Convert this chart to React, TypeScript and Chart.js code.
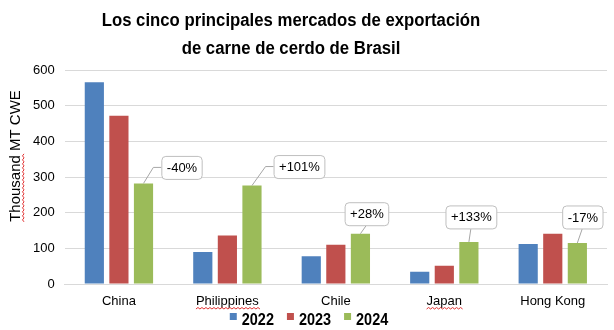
import React, { useEffect, useRef } from "react";
import { Chart, registerables } from "chart.js";

Chart.register(...registerables);

const categories = ["China", "Philippines", "Chile", "Japan", "Hong Kong"];
const years = ["2022", "2023", "2024"];
const values2022 = [566, 90, 78, 34, 112];
const values2023 = [472, 136, 110, 51, 141];
const values2024 = [282, 276, 141, 118, 115];
const changeLabels = ["-40%", "+101%", "+28%", "+133%", "-17%"];
const yTicks = [0, 100, 200, 300, 400, 500, 600];
const titleLines = ["Los cinco principales mercados de exportación", "de carne de cerdo de Brasil"];
const yTitle = "Thousand MT CWE";

const colors = ["#4f81bd", "#c0504d", "#9bbb59"];
// callout placement (style): offset of box center from bar top, and connector kind
const calloutStyle = [
  { dx: 38, dy: -16, side: true },
  { dx: 47, dy: -19, side: true },
  { dx: 6, dy: -20, side: false },
  { dx: 2, dy: -25, side: false },
  { dx: 5, dy: -26, side: false },
];
const misspelled = ["Philippines", "Japan"];

const FONT = "'Liberation Sans', Arial, sans-serif";

function wavy(ctx: CanvasRenderingContext2D, x0: number, x1: number, y: number) {
  ctx.save();
  ctx.strokeStyle = "#e03030";
  ctx.lineWidth = 1;
  ctx.beginPath();
  let up = true;
  ctx.moveTo(x0, y);
  for (let x = x0; x < x1; x += 2) {
    ctx.lineTo(x + 2, up ? y - 1.5 : y);
    up = !up;
  }
  ctx.stroke();
  ctx.restore();
}

const calloutPlugin = {
  id: "callouts",
  afterDatasetsDraw(chart: any) {
    const ctx: CanvasRenderingContext2D = chart.ctx;
    const meta = chart.getDatasetMeta(2);
    ctx.save();
    ctx.font = `13px ${FONT}`;
    meta.data.forEach((bar: any, i: number) => {
      const st = calloutStyle[i];
      const text = changeLabels[i];
      const tw = ctx.measureText(text).width;
      const w = tw + 10;
      const h = 23;
      const cx = bar.x + st.dx;
      const cy = bar.y + st.dy;
      const left = cx - w / 2;
      const top = cy - h / 2;
      ctx.strokeStyle = "#a6a6a6";
      ctx.lineWidth = 1;
      ctx.beginPath();
      if (st.side) {
        ctx.moveTo(bar.x, bar.y);
        ctx.lineTo(left - 8, cy);
        ctx.lineTo(left, cy);
      } else {
        ctx.moveTo(bar.x, bar.y);
        ctx.lineTo(cx, top + h);
      }
      ctx.stroke();
      ctx.beginPath();
      ctx.roundRect(left + 0.5, top + 0.5, w, h, 4);
      ctx.fillStyle = "#ffffff";
      ctx.fill();
      ctx.strokeStyle = "#bfbfbf";
      ctx.stroke();
      ctx.fillStyle = "#000000";
      ctx.textAlign = "center";
      ctx.textBaseline = "middle";
      ctx.fillText(text, cx + 0.5, cy + 1);
    });
    ctx.restore();
  },
  afterDraw(chart: any) {
    const ctx: CanvasRenderingContext2D = chart.ctx;
    const area = chart.chartArea;
    // title (narrow bold look)
    ctx.save();
    ctx.font = `bold 18px ${FONT}`;
    ctx.fillStyle = "#000000";
    ctx.textAlign = "center";
    ctx.textBaseline = "middle";
    titleLines.forEach((t, i) => {
      ctx.save();
      ctx.translate(291, 21 + i * 28);
      ctx.scale(0.93, 1);
      ctx.fillText(t, 0, 0);
      ctx.restore();
    });
    ctx.restore();
    // y axis title
    ctx.save();
    ctx.font = `15px ${FONT}`;
    ctx.fillStyle = "#000000";
    const cy = (area.top + area.bottom) / 2 - 21;
    ctx.translate(16, cy);
    ctx.rotate(-Math.PI / 2);
    ctx.textAlign = "center";
    ctx.textBaseline = "middle";
    ctx.fillText(yTitle, 0, 0);
    const full = ctx.measureText(yTitle).width;
    const first = ctx.measureText(yTitle.split(" ")[0]).width;
    ctx.restore();
    ctx.save();
    ctx.translate(16, cy);
    ctx.rotate(-Math.PI / 2);
    wavy(ctx, -full / 2, -full / 2 + first, 8);
    ctx.restore();
    // spell-check underlines under tick labels
    const xs = chart.scales.x;
    ctx.save();
    ctx.font = `13px ${FONT}`;
    categories.forEach((c, i) => {
      if (!misspelled.includes(c)) return;
      const x = xs.getPixelForTick(i);
      const w = ctx.measureText(c).width;
      wavy(ctx, x - w / 2, x + w / 2, area.bottom + 25);
    });
    ctx.restore();
    // legend (compact, bottom)
    ctx.save();
    ctx.font = `bold 17px ${FONT}`;
    const sx = 0.85;
    const ds = chart.data.datasets;
    const widths = ds.map((d: any) => ctx.measureText(d.label).width * sx);
    const box = 7, gap = 5, sep = 13;
    const total = widths.reduce((a: number, w: number) => a + box + gap + w, 0) + sep * (ds.length - 1);
    let x = 309 - total / 2;
    const ty = 319;
    ds.forEach((d: any, i: number) => {
      ctx.fillStyle = d.backgroundColor;
      ctx.fillRect(x, ty - 6, box, box);
      x += box + gap;
      ctx.save();
      ctx.translate(x, ty);
      ctx.scale(sx, 1);
      ctx.fillStyle = "#000000";
      ctx.textAlign = "left";
      ctx.textBaseline = "middle";
      ctx.fillText(d.label, 0, 1);
      ctx.restore();
      x += widths[i] + sep;
    });
    ctx.restore();
  },
};

export default function App() {
  const ref = useRef<HTMLCanvasElement>(null);
  useEffect(() => {
    const chart = new Chart(ref.current!, {
      type: "bar",
      data: {
        labels: categories,
        datasets: [values2022, values2023, values2024].map((d, i) => ({
          label: years[i],
          data: d,
          backgroundColor: colors[i],
          borderWidth: 0,
          categoryPercentage: 0.68,
          barPercentage: 0.78,
        })),
      },
      options: {
        animation: false,
        responsive: false,
        maintainAspectRatio: false,
        layout: { padding: { left: 23, right: 7, top: 70, bottom: 11 } },
        plugins: {
          tooltip: { enabled: false },
          title: { display: false },
          legend: { display: false },
        },
        scales: {
          x: {
            grid: { display: false, drawTicks: false },
            border: { color: "#d9d9d9" },
            ticks: { color: "#000000", font: { family: FONT, size: 13, lineHeight: 1 }, padding: 11 },
          },
          y: {
            min: 0,
            max: 600,
            afterBuildTicks: (s: any) => {
              s.ticks = yTicks.map((v) => ({ value: v }));
            },
            grid: { color: "#d9d9d9", drawTicks: false },
            border: { display: false },
            ticks: { color: "#000000", font: { family: FONT, size: 13 }, padding: 10 },
          },
        },
      },
      plugins: [calloutPlugin],
    } as any);
    return () => chart.destroy();
  }, []);
  return (
    <div style={{ position: "fixed", left: 0, top: 0, width: 614, height: 330, background: "#fff" }}>
      <canvas ref={ref} width={614} height={330} style={{ width: 614, height: 330 }} />
    </div>
  );
}
